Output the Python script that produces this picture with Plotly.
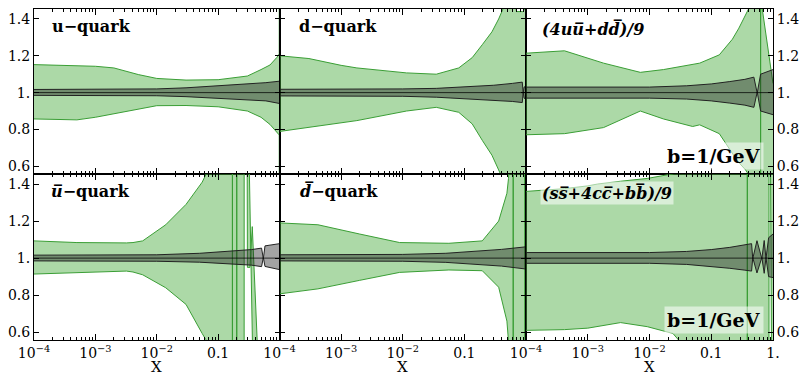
import plotly.graph_objects as go

# ---------------- data ----------------
# u-quark
u_gx = [1e-4, 5e-4, 1e-3, 2e-3, 5e-3, 0.01, 0.03, 0.1, 0.3, 0.5, 0.7, 0.9, 0.99, 0.998, 1.0]
u_ghi = [1.152, 1.145, 1.143, 1.134, 1.098, 1.077, 1.068, 1.07, 1.09, 1.125, 1.15, 1.19, 1.21, 3.0, 3.0]
u_glo = [0.857, 0.852, 0.866, 0.884, 0.91, 0.929, 0.93, 0.923, 0.90, 0.866, 0.827, 0.786, 0.77, -1.0, -1.0]
u_sx = [1e-4, 1e-3, 0.01, 0.03, 0.1, 0.3, 0.6, 1.0]
u_shi = [1.017, 1.017, 1.02, 1.026, 1.036, 1.046, 1.054, 1.062]
u_slo = [0.985, 0.985, 0.983, 0.978, 0.97, 0.962, 0.955, 0.941]

# d-quark
d_gx = [1e-4, 3e-4, 1e-3, 1.8e-3, 0.0115, 0.035, 0.081, 0.134, 0.195, 0.28, 0.36, 0.43, 0.66, 0.70, 0.88, 0.95, 0.96, 1.0]
d_ghi = [1.20, 1.185, 1.148, 1.134, 1.107, 1.10, 1.134, 1.19, 1.26, 1.33, 1.40, 1.46, 1.50, 1.44, 1.44, 1.45, 3.0, 3.0]
d_glo = [0.789, 0.81, 0.836, 0.848, 0.90, 0.92, 0.893, 0.83, 0.741, 0.66, 0.58, 0.52, 0.3, 0.3, 0.3, 0.3, -1.0, -1.0]
d_sx = [1e-4, 1e-3, 0.01, 0.035, 0.1, 0.3, 0.6, 0.87, 0.9, 0.93, 1.0]
d_shi = [1.018, 1.018, 1.02, 1.023, 1.03, 1.04, 1.05, 1.057, 0.997, 1.03, 1.035]
d_slo = [0.982, 0.982, 0.98, 0.975, 0.968, 0.958, 0.952, 0.946, 1.003, 0.97, 0.965]

# (4 u ubar + d dbar)/9
ud_gx = [1e-4, 4.2e-4, 1.8e-3, 7.1e-3, 0.0168, 0.05, 0.065, 0.135, 0.22, 0.28, 0.36, 0.41, 0.6, 0.628, 0.63, 0.632, 0.66, 0.8, 1.0]
ud_ghi = [1.214, 1.227, 1.16, 1.11, 1.125, 1.15, 1.16, 1.205, 1.29, 1.35, 1.42, 1.46, 2.0, 3.0, 3.0, 3.0, 1.47, 1.28, 1.05]
ud_glo = [0.771, 0.777, 0.81, 0.90, 0.857, 0.816, 0.825, 0.777, 0.67, 0.62, 0.58, 0.55, 0.2, -1.0, 3.0, -1.0, -1.0, 0.2, 0.3]
ud_sx = [1e-4, 1e-3, 0.01, 0.04, 0.1, 0.2, 0.35, 0.49, 0.555, 0.63, 1.0]
ud_shi = [1.03, 1.03, 1.03, 1.037, 1.047, 1.06, 1.072, 1.084, 0.997, 1.10, 1.125]
ud_slo = [0.97, 0.97, 0.97, 0.965, 0.955, 0.943, 0.932, 0.92, 1.003, 0.90, 0.88]

# ubar-quark
ub_gx = [1e-4, 5e-4, 3.2e-3, 4.1e-3, 5.9e-3, 0.014, 0.03, 0.055, 0.063, 0.09, 0.17, 0.171, 0.172,
         0.2, 0.201, 0.202, 0.265, 0.266, 0.267, 0.29, 0.3, 0.33, 0.36, 0.44]
ub_ghi = [1.093, 1.084, 1.082, 1.084, 1.093, 1.18, 1.29, 1.41, 1.45, 1.8, 3.0, 3.0, 3.0,
          3.0, 3.0, 3.0, 3.0, 3.0, 3.0, 3.0, 0.95, 0.95, 1.17, 0.5]
ub_glo = [0.914, 0.923, 0.93, 0.925, 0.91, 0.84, 0.75, 0.593, 0.56, 0.3, -1.0, 3.0, -1.0,
          -1.0, 3.0, -1.0, -1.0, 3.0, -1.0, -1.0, -1.0, -1.0, -1.0, -1.0]
ub_sx = [1e-4, 1e-3, 0.01, 0.05, 0.15, 0.35, 0.51, 0.545, 0.58, 1.0]
ub_shi = [1.016, 1.016, 1.018, 1.026, 1.036, 1.046, 1.054, 0.997, 1.066, 1.078]
ub_slo = [0.985, 0.985, 0.983, 0.978, 0.970, 0.962, 0.954, 1.003, 0.955, 0.938]

# dbar-quark
db_gx = [1e-4, 4.2e-4, 2e-3, 8.9e-3, 0.056, 0.195, 0.36, 0.49, 0.52, 0.56, 0.615, 0.62, 0.625, 0.95, 0.955, 0.96, 1.0]
db_ghi = [1.19, 1.18, 1.13, 1.084, 1.08, 1.093, 1.2, 1.35, 1.43, 1.7, 3.0, 3.0, 3.0, 3.0, 3.0, 3.0, 3.0]
db_glo = [0.807, 0.834, 0.88, 0.923, 0.936, 0.932, 0.843, 0.66, 0.55, 0.3, -1.0, 3.0, -1.0, -1.0, 3.0, -1.0, -1.0]
db_sx = [1e-4, 1e-3, 0.01, 0.05, 0.15, 0.4, 1.0]
db_shi = [1.018, 1.018, 1.02, 1.026, 1.036, 1.047, 1.061]
db_slo = [0.985, 0.985, 0.983, 0.977, 0.968, 0.957, 0.941]

# (s sbar + 4 c cbar + b bbar)/9
sc_gx = [1e-4, 4.2e-4, 1e-3, 1.45e-3, 3.4e-3, 9.2e-3, 0.024, 0.031, 0.05, 0.1, 0.38, 0.384, 0.388, 0.86, 0.863, 0.866, 1.0]
sc_ghi = [1.36, 1.375, 1.39, 1.40, 1.415, 1.43, 1.455, 1.47, 1.6, 2.5, 3.0, 3.0, 3.0, 3.0, 3.0, 3.0, 3.0]
sc_glo = [0.61, 0.614, 0.622, 0.632, 0.652, 0.63, 0.593, 0.55, 0.45, 0.2, -1.0, 3.0, -1.0, -1.0, 3.0, -1.0, -1.0]
sc_sx = [1e-4, 1e-3, 0.01, 0.04, 0.1, 0.2, 0.35, 0.45, 0.47, 0.55, 0.66, 0.72, 0.77, 0.85, 1.0]
sc_shi = [1.03, 1.03, 1.03, 1.036, 1.046, 1.058, 1.072, 1.078, 0.997, 1.094, 0.997, 1.095, 0.997, 1.11, 1.13]
sc_slo = [0.972, 0.972, 0.972, 0.966, 0.956, 0.945, 0.935, 0.93, 1.003, 0.92, 1.003, 0.918, 1.003, 0.9, 0.895]

panel_titles = [
    "<b>u−quark</b>",
    "<b>d−quark</b>",
    "<b><i>(4uu\u0305+dd\u0305)/9</i></b>",
    "<b><i>u\u0305</i>−quark</b>",
    "<b><i>d\u0305</i>−quark</b>",
    "<b><i>(ss\u0305+4cc\u0305+bb\u0305)/9</i></b>",
]
x_tickvals = [1e-4, 1e-3, 1e-2, 0.1, 1.0]
x_ticktext_inner = ["10<sup>−4</sup>", "10<sup>−3</sup>", "10<sup>−2</sup>", "0.1", " "]
x_ticktext_last = ["10<sup>−4</sup>", "10<sup>−3</sup>", "10<sup>−2</sup>", "0.1", "1."]
y_tickvals = [0.6, 0.8, 1.0, 1.2, 1.4]
y_ticktext = ["0.6", "0.8", "1.", "1.2", "1.4"]
x_minor = [m * 10.0 ** e for e in (-4, -3, -2, -1) for m in range(2, 10)]

panels = [
    (u_gx, u_glo, u_ghi, u_sx, u_slo, u_shi),
    (d_gx, d_glo, d_ghi, d_sx, d_slo, d_shi),
    (ud_gx, ud_glo, ud_ghi, ud_sx, ud_slo, ud_shi),
    (ub_gx, ub_glo, ub_ghi, ub_sx, ub_slo, ub_shi),
    (db_gx, db_glo, db_ghi, db_sx, db_slo, db_shi),
    (sc_gx, sc_glo, sc_ghi, sc_sx, sc_slo, sc_shi),
]

# ---------------- layout geometry ----------------
W, H = 807, 372
ML, MR, MT, MB = 33, 26, 8, 32
PW, PH = W - ML - MR, H - MT - MB


def px(xp):
    return (xp - ML) / PW


def py(yp):
    return (H - MB - yp) / PH


col_dom = [[px(33), px(281.5)], [px(281.5), px(531)], [px(531), px(781)]]
row_dom = [[py(173.5), py(8)], [py(340), py(173.5)]]
X_RANGE = [-4, 0]
Y_RANGE = [0.558, 1.454]

FONT = "DejaVu Serif"
GREEN_FILL = "rgba(70,170,60,0.45)"
GREEN_LINE = "#3a9e35"
GREY_FILL = "rgba(25,25,25,0.4)"

fig = go.Figure()
layout = dict(
    width=W, height=H, margin=dict(l=ML, r=MR, t=MT, b=MB),
    paper_bgcolor="white", plot_bgcolor="white", showlegend=False,
    font=dict(family=FONT, size=14, color="black"),
)

tick_common = dict(ticks="inside", tickwidth=1, tickcolor="black", showgrid=False, zeroline=False)

for i, (gx, glo, ghi, sx, slo, shi) in enumerate(panels):
    r, c = divmod(i, 3)
    k = "" if i == 0 else str(i + 1)
    xa, ya = "x" + k, "y" + k
    fig.add_trace(go.Scatter(x=gx, y=glo, xaxis=xa, yaxis=ya, mode="lines",
                             line=dict(color=GREEN_LINE, width=1), hoverinfo="skip"))
    fig.add_trace(go.Scatter(x=gx, y=ghi, xaxis=xa, yaxis=ya, mode="lines", fill="tonexty",
                             fillcolor=GREEN_FILL, line=dict(color=GREEN_LINE, width=1), hoverinfo="skip"))
    fig.add_trace(go.Scatter(x=sx, y=slo, xaxis=xa, yaxis=ya, mode="lines",
                             line=dict(color="#222", width=1), hoverinfo="skip"))
    fig.add_trace(go.Scatter(x=sx, y=shi, xaxis=xa, yaxis=ya, mode="lines", fill="tonexty",
                             fillcolor=GREY_FILL, line=dict(color="#222", width=1), hoverinfo="skip"))
    fig.add_trace(go.Scatter(x=[1e-4, 1.0], y=[1.0, 1.0], xaxis=xa, yaxis=ya, mode="lines",
                             line=dict(color="rgba(0,0,0,0.75)", width=1), hoverinfo="skip"))

    layout["xaxis" + k] = dict(
        type="log", range=X_RANGE, domain=col_dom[c], anchor=ya,
        showline=True, linecolor="black", linewidth=1, mirror=True,
        ticklen=6, tickvals=x_tickvals,
        ticktext=x_ticktext_last if c == 2 else x_ticktext_inner,
        showticklabels=(r == 1),
        tickfont=dict(family=FONT, size=14, color="black"),
        minor=dict(ticks="inside", ticklen=3, tickwidth=1, tickcolor="black",
                   tickvals=x_minor, showgrid=False),
        **tick_common,
    )
    layout["yaxis" + k] = dict(
        range=Y_RANGE, domain=row_dom[r], anchor=xa,
        showline=True, linecolor="black", linewidth=1, mirror=True,
        ticklen=5, tickvals=y_tickvals, ticktext=y_ticktext,
        showticklabels=(c != 1), side="right" if c == 2 else "left",
        tickfont=dict(family=FONT, size=14, color="black"),
        **tick_common,
    )

    # overlay axes carrying the mirrored ticks (top / opposite side)
    kx, ky = str(i + 7), str(i + 13)
    layout["xaxis" + kx] = dict(
        type="log", range=X_RANGE, overlaying=xa, side="top", anchor=ya,
        showline=False, ticklen=6, tickvals=x_tickvals, showticklabels=False,
        minor=dict(ticks="inside", ticklen=3, tickwidth=1, tickcolor="black",
                   tickvals=x_minor, showgrid=False),
        **tick_common,
    )
    layout["yaxis" + ky] = dict(
        range=Y_RANGE, overlaying=ya, side="left" if c == 2 else "right", anchor=xa,
        showline=False, ticklen=5, tickvals=y_tickvals, showticklabels=False,
        **tick_common,
    )
    fig.add_trace(go.Scatter(x=[None], y=[None], xaxis="x" + kx, yaxis="y" + ky,
                             mode="lines", hoverinfo="skip"))

fig.update_layout(**layout)

# ---------------- annotations ----------------
title_pos = [(49, 26), (299, 26), (545, 28), (48, 191), (300, 191), (545, 193)]
for i, (t, (xp, yp)) in enumerate(zip(panel_titles, title_pos)):
    ann = dict(text=t, x=px(xp), y=py(yp), xref="paper", yref="paper",
               xanchor="left", yanchor="middle", showarrow=False,
               font=dict(family=FONT, size=16, color="black"))
    if i == 5:
        ann.update(bgcolor="rgba(255,255,255,0.55)", borderpad=1)
    fig.add_annotation(**ann)

for yp in (155, 320):
    fig.add_annotation(text="<b>b=1/GeV</b>", x=px(721), y=py(yp), xref="paper", yref="paper",
                       xanchor="center", yanchor="middle", showarrow=False,
                       bgcolor="rgba(255,255,255,0.55)", borderpad=2,
                       font=dict(family=FONT, size=19, color="black"))

for xp in (157, 406, 656):
    fig.add_annotation(text="X", x=px(xp), y=py(367), xref="paper", yref="paper",
                       xanchor="center", yanchor="middle", showarrow=False,
                       font=dict(family=FONT, size=15, color="black"))

fig.write_html("out.html")
